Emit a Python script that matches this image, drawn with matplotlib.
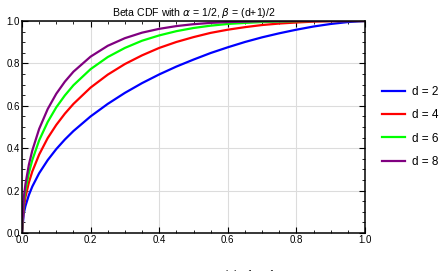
import matplotlib
matplotlib.use("Agg")
import matplotlib.pyplot as plt
from matplotlib.ticker import MultipleLocator

plt.rcParams['font.family'] = ['Liberation Sans', 'DejaVu Sans']
plt.rcParams['mathtext.fontset'] = 'dejavusans'

# x samples and CDF values
x = [0, .005, .01, .02, .03, .05, .075, .1, .125, .15, .2, .25, .3, .35, .4,
     .45, .5, .55, .6, .65, .7, .75, .8, .85, .9, .95, 1.0]
d2 = [0.000, 0.090, 0.127, 0.179, 0.219, 0.282, 0.344, 0.396, 0.441, 0.481, 0.550,
      0.609, 0.661, 0.707, 0.748, 0.785, 0.818, 0.849, 0.876, 0.901, 0.923, 0.942,
      0.959, 0.974, 0.986, 0.995, 1.000]
d4 = [0.000, 0.120, 0.169, 0.238, 0.290, 0.370, 0.448, 0.510, 0.563, 0.609, 0.686,
      0.747, 0.797, 0.838, 0.873, 0.901, 0.924, 0.944, 0.959, 0.971, 0.981, 0.988,
      0.993, 0.997, 0.999, 1.000, 1.000]
d6 = [0.000, 0.143, 0.202, 0.283, 0.344, 0.437, 0.524, 0.593, 0.649, 0.697, 0.773,
      0.830, 0.873, 0.907, 0.932, 0.952, 0.967, 0.978, 0.986, 0.991, 0.995, 0.997,
      0.999, 1.000, 1.000, 1.000, 1.000]
d8 = [0.000, 0.164, 0.230, 0.322, 0.389, 0.491, 0.585, 0.657, 0.714, 0.761, 0.832,
      0.883, 0.919, 0.945, 0.963, 0.976, 0.985, 0.991, 0.995, 0.997, 0.999, 0.999,
      1.000, 1.000, 1.000, 1.000, 1.000]
labels = ['d = 2', 'd = 4', 'd = 6', 'd = 8']
colors = ['#0000ff', '#ff0000', '#00ff00', '#800080']

fig = plt.figure(figsize=(4.45, 2.71), dpi=100)
ax = fig.add_axes([22/445, 1-233/271, 343/445, 212/271])

for ys, lab, c in zip([d2, d4, d6, d8], labels, colors):
    ax.plot(x, ys, color=c, lw=1.6, label=lab, solid_joinstyle='round')

ax.set_xlim(0, 1)
ax.set_ylim(0, 1)
ax.xaxis.set_major_locator(MultipleLocator(0.2))
ax.yaxis.set_major_locator(MultipleLocator(0.2))
ax.xaxis.set_minor_locator(MultipleLocator(0.05))
ax.yaxis.set_minor_locator(MultipleLocator(0.05))
ax.grid(True, which='major', color='#dcdcdc', lw=0.8)
ax.set_axisbelow(True)
ax.tick_params(which='both', direction='in', top=True, right=True,
               labelsize=7, pad=1.5, color='black')
ax.tick_params(which='major', length=4, width=0.8)
ax.tick_params(which='minor', length=2.5, width=0.6)
for s in ax.spines.values():
    s.set_linewidth(1.1)

ax.set_title(r'Beta CDF with $\alpha$ = 1/2, $\beta$ = (d+1)/2', fontsize=7.6, pad=3.5)

ax.legend(loc='center left', bbox_to_anchor=(1.02, 0.5), frameon=False,
          fontsize=8.5, handlelength=1.9, labelspacing=0.95, handletextpad=0.6)

fig.text(226/445, -9/271, 'l d + 1      1', fontsize=7, va='bottom', ha='left')

fig.savefig('out.png', dpi=100)
